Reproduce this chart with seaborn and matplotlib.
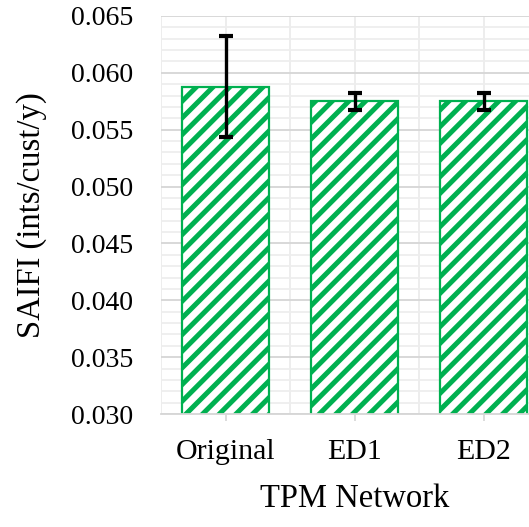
import matplotlib
matplotlib.use("Agg")
import matplotlib.pyplot as plt
import seaborn as sns
import pandas as pd
from matplotlib.ticker import MultipleLocator, FixedLocator

categories = ["Original", "ED1", "ED2"]
saifi = [0.0588, 0.0575, 0.0575]
saifi_err = [0.0044, 0.00075, 0.00075]
y_ticks = [0.030, 0.035, 0.040, 0.045, 0.050, 0.055, 0.060, 0.065]

sns.set_theme(style="white")
plt.rcParams["font.family"] = ["Liberation Serif", "DejaVu Serif"]
plt.rcParams["hatch.linewidth"] = 3.6
plt.rcParams["hatch.color"] = "#00B050"

df = pd.DataFrame({"network": categories, "saifi": saifi})

fig = plt.figure(figsize=(5.29, 5.27), dpi=100)
ax = fig.add_axes([161 / 529, (527 - 414) / 527, 387 / 529, (414 - 16) / 527])

sns.barplot(data=df, x="network", y="saifi", color="white", edgecolor="#00B050",
            linewidth=1.6, width=0.68, hatch="//", errorbar=None, ax=ax, zorder=2)
for p in ax.patches:
    p.set_facecolor("white")
    p.set_edgecolor("#00B050")
    p.set_hatch("//")

ax.errorbar(x=range(len(categories)), y=saifi, yerr=saifi_err, fmt="none",
            ecolor="black", elinewidth=2.4, capsize=5.2, capthick=3.0, zorder=3)

ax.set_ylim(0.030, 0.065)
ax.set_xlim(-0.5, 2.5)
ax.set_yticks(y_ticks)
ax.set_yticklabels([f"{v:.3f}" for v in y_ticks])
ax.yaxis.set_minor_locator(MultipleLocator(0.001))
ax.xaxis.set_minor_locator(FixedLocator([-0.5, 0.5, 1.5, 2.5]))

ax.set_axisbelow(True)
ax.grid(axis="y", which="major", color="#d6d6d6", linewidth=1.3)
ax.grid(axis="y", which="minor", color="#eeeeee", linewidth=1.3)
ax.grid(axis="x", which="both", color="#ececec", linewidth=1.3)

for s in ["left", "right", "top"]:
    ax.spines[s].set_visible(False)
ax.spines["bottom"].set_color("#d6d6d6")
ax.spines["bottom"].set_linewidth(1.3)

ax.tick_params(axis="y", which="both", length=0, pad=20, labelsize=20, labelcolor="black")
ax.tick_params(axis="x", which="major", length=5, width=1.2, color="#d6d6d6",
               pad=13, labelsize=21.5, labelcolor="black", bottom=True)
ax.tick_params(axis="x", which="minor", length=0)

ax.set_xlabel("TPM Network", fontsize=23.5, color="black")
ax.set_ylabel("SAIFI (ints/cust/y)", fontsize=23.5, color="black")
ax.xaxis.set_label_coords(0.5, -0.175)
ax.yaxis.set_label_coords(-0.295, 0.5)

fig.savefig("out.png", dpi=100)
